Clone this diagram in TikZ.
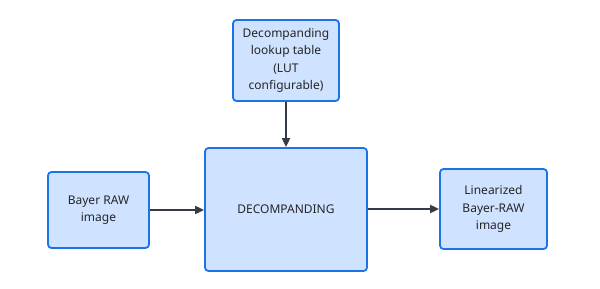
\documentclass[tikz,border=0pt]{standalone}
\usepackage{fontspec}
\setmainfont{Noto Sans}
\usetikzlibrary{arrows.meta}
\definecolor{boxfill}{HTML}{CFE2FF}
\definecolor{boxline}{HTML}{1A73E8}
\definecolor{arrowcol}{HTML}{363C45}
\begin{document}
\begin{tikzpicture}[x=1pt,y=-1pt,
  box/.style={draw=boxline,fill=boxfill,line width=1.8pt,rounded corners=3.5pt,
    align=center,inner sep=0pt,font=\fontsize{12}{17.5}\selectfont,text=black!85},
  conn/.style={draw=arrowcol,line width=1.9pt,-{Triangle[length=9pt,width=8pt]}}]
\useasboundingbox (0,0) rectangle (600,289);
\node[box,minimum width=106pt,minimum height=81pt] (lut) at (286,60.5)
  {Decompanding\\lookup table\\(LUT\\configurable)};
\node[box,minimum width=101pt,minimum height=76pt] (raw) at (98.5,210)
  {Bayer RAW\\image};
\node[box,minimum width=162pt,minimum height=123pt] (dec) at (286,209.5)
  {DECOMPANDING};
\node[box,minimum width=107pt,minimum height=80pt] (lin) at (493.5,209)
  {Linearized\\Bayer-RAW\\image};
\draw[conn] (lut) -- (dec);
\draw[conn] (raw) -- (raw -| dec.west);
\draw[conn] (lin -| dec.east) -- (lin);
\end{tikzpicture}
\end{document}
